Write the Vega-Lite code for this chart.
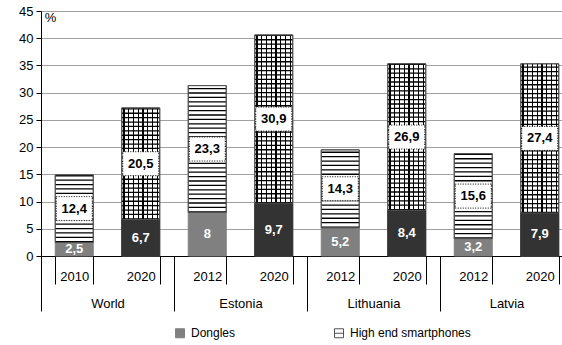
{
  "$schema": "https://vega.github.io/schema/vega-lite/v6.json",
  "autosize": {"type": "none"},
  "padding": {"left": 41, "top": 11, "right": 0, "bottom": 89},
  "width": 521,
  "height": 245,
  "config": {
    "view": {"stroke": null},
    "font": "Liberation Sans",
    "locale": {"number": {"decimal": ",", "thousands": ".", "grouping": [3], "currency": ["", "€"]}},
    "axisY": {
      "titleAngle": 0, "titleX": 9, "titleY": 6, "titleAlign": "center",
      "titleBaseline": "middle", "titleFontSize": 13, "titleFontWeight": "normal", "titleColor": "black",
      "tickCount": 9, "tickSize": 5, "tickColor": "black",
      "domainColor": "black", "labelFontSize": 13, "labelColor": "black", "labelPadding": 3,
      "grid": true, "gridColor": "#a0a0a0"
    }
  },
  "data": {
    "values": [
      {"region": "World", "year": "2010", "key": "World|2010", "series": "Dongles", "value": 2.5},
      {"region": "World", "year": "2010", "key": "World|2010", "series": "High end smartphones", "value": 12.4},
      {"region": "World", "year": "2020", "key": "World|2020", "series": "Dongles", "value": 6.7},
      {"region": "World", "year": "2020", "key": "World|2020", "series": "High end smartphones", "value": 20.5},
      {"region": "Estonia", "year": "2012", "key": "Estonia|2012", "series": "Dongles", "value": 8},
      {"region": "Estonia", "year": "2012", "key": "Estonia|2012", "series": "High end smartphones", "value": 23.3},
      {"region": "Estonia", "year": "2020", "key": "Estonia|2020", "series": "Dongles", "value": 9.7},
      {"region": "Estonia", "year": "2020", "key": "Estonia|2020", "series": "High end smartphones", "value": 30.9},
      {"region": "Lithuania", "year": "2012", "key": "Lithuania|2012", "series": "Dongles", "value": 5.2},
      {"region": "Lithuania", "year": "2012", "key": "Lithuania|2012", "series": "High end smartphones", "value": 14.3},
      {"region": "Lithuania", "year": "2020", "key": "Lithuania|2020", "series": "Dongles", "value": 8.4},
      {"region": "Lithuania", "year": "2020", "key": "Lithuania|2020", "series": "High end smartphones", "value": 26.9},
      {"region": "Latvia", "year": "2012", "key": "Latvia|2012", "series": "Dongles", "value": 3.2},
      {"region": "Latvia", "year": "2012", "key": "Latvia|2012", "series": "High end smartphones", "value": 15.6},
      {"region": "Latvia", "year": "2020", "key": "Latvia|2020", "series": "Dongles", "value": 7.9},
      {"region": "Latvia", "year": "2020", "key": "Latvia|2020", "series": "High end smartphones", "value": 27.4}
    ]
  },
  "transform": [
    {"stack": "value", "groupby": ["key"], "sort": [{"field": "series", "order": "ascending"}], "as": ["v0", "v1"]}
  ],
  "layer": [
    {
      "encoding": {
        "x": {
          "field": "key", "type": "nominal", "sort": null,
          "scale": {"range": [0, 532], "paddingInner": 0.4286, "paddingOuter": 0.2143},
          "axis": {
            "orient": "bottom", "title": null, "labelExpr": "split(datum.label, '|')[1]",
            "tickBand": "extent", "tickSize": 28, "tickColor": "black", "domainColor": "black",
            "labelPadding": -14, "labelFontSize": 13, "labelColor": "black", "labelAngle": 0, "grid": false
          }
        }
      },
      "layer": [
        {
          "mark": {"type": "bar", "strokeWidth": 1},
          "encoding": {
            "y": {
              "field": "v0", "type": "quantitative", "title": "%",
              "scale": {"domain": [0, 45], "nice": false}
            },
            "y2": {"field": "v1"},
            "fill": {
              "field": "series", "type": "nominal",
              "scale": {"domain": ["Dongles", "High end smartphones"], "range": ["#808080", "#ffffff"]},
              "legend": {
                "title": null, "orient": "none", "direction": "horizontal", "columns": 2,
                "legendX": 133, "legendY": 316, "columnPadding": 96,
                "symbolType": "M-1,-1H1V1H-1Z M-1,0H1", "symbolSize": 81, "symbolStrokeWidth": 1,
                "labelFontSize": 12, "labelColor": "black", "labelOffset": 5
              }
            },
            "stroke": {
              "field": "series", "type": "nominal",
              "scale": {"domain": ["Dongles", "High end smartphones"], "range": ["#808080", "#555555"]},
              "legend": {
                "title": null, "orient": "none", "direction": "horizontal", "columns": 2,
                "legendX": 133, "legendY": 316, "columnPadding": 96,
                "symbolType": "M-1,-1H1V1H-1Z M-1,0H1", "symbolSize": 81, "symbolStrokeWidth": 1,
                "labelFontSize": 12, "labelColor": "black", "labelOffset": 5
              }
            }
          }
        },
        {
          "transform": [{"filter": "datum.series == 'Dongles' && datum.year == '2020'"}],
          "mark": {"type": "bar", "fill": "#333333", "stroke": "#333333", "strokeWidth": 1},
          "encoding": {
            "y": {"field": "v0", "type": "quantitative", "title": "%"},
            "y2": {"field": "v1"}
          }
        },
        {
          "transform": [{"filter": "datum.series != 'Dongles'"}],
          "mark": {"type": "rule", "color": "black", "strokeWidth": 38, "strokeDash": [1.3, 3.1]},
          "encoding": {
            "y": {"field": "v0", "type": "quantitative", "title": "%"},
            "y2": {"field": "v1"}
          }
        },
        {
          "transform": [{"filter": "datum.series != 'Dongles' && datum.year == '2020'"}],
          "mark": {
            "type": "bar",
            "fill": {
              "gradient": "linear", "x1": 0, "y1": 0, "x2": 1, "y2": 0,
              "stops": [
                {"offset": 0, "color": "rgba(0,0,0,0)"},
                {"offset": 0.045, "color": "rgba(0,0,0,0)"}, {"offset": 0.045, "color": "#000000"},
                {"offset": 0.075, "color": "#000000"}, {"offset": 0.075, "color": "rgba(0,0,0,0)"},
                {"offset": 0.17, "color": "rgba(0,0,0,0)"}, {"offset": 0.17, "color": "#000000"},
                {"offset": 0.2, "color": "#000000"}, {"offset": 0.2, "color": "rgba(0,0,0,0)"},
                {"offset": 0.295, "color": "rgba(0,0,0,0)"}, {"offset": 0.295, "color": "#000000"},
                {"offset": 0.325, "color": "#000000"}, {"offset": 0.325, "color": "rgba(0,0,0,0)"},
                {"offset": 0.42, "color": "rgba(0,0,0,0)"}, {"offset": 0.42, "color": "#000000"},
                {"offset": 0.45, "color": "#000000"}, {"offset": 0.45, "color": "rgba(0,0,0,0)"},
                {"offset": 0.545, "color": "rgba(0,0,0,0)"}, {"offset": 0.545, "color": "#000000"},
                {"offset": 0.575, "color": "#000000"}, {"offset": 0.575, "color": "rgba(0,0,0,0)"},
                {"offset": 0.67, "color": "rgba(0,0,0,0)"}, {"offset": 0.67, "color": "#000000"},
                {"offset": 0.7, "color": "#000000"}, {"offset": 0.7, "color": "rgba(0,0,0,0)"},
                {"offset": 0.795, "color": "rgba(0,0,0,0)"}, {"offset": 0.795, "color": "#000000"},
                {"offset": 0.825, "color": "#000000"}, {"offset": 0.825, "color": "rgba(0,0,0,0)"},
                {"offset": 0.92, "color": "rgba(0,0,0,0)"}, {"offset": 0.92, "color": "#000000"},
                {"offset": 0.95, "color": "#000000"}, {"offset": 0.95, "color": "rgba(0,0,0,0)"},
                {"offset": 1, "color": "rgba(0,0,0,0)"}
              ]
            }
          },
          "encoding": {
            "y": {"field": "v0", "type": "quantitative", "title": "%"},
            "y2": {"field": "v1"}
          }
        },
        {
          "transform": [{"filter": "datum.series != 'Dongles'"}],
          "mark": {"type": "bar", "fillOpacity": 0, "fill": "white", "stroke": "#555555", "strokeWidth": 1},
          "encoding": {
            "y": {"field": "v0", "type": "quantitative", "title": "%"},
            "y2": {"field": "v1"}
          }
        },
        {
          "transform": [{"fold": ["v0", "v1"], "as": ["edge", "pos"]}],
          "encoding": {
            "y": {"aggregate": "mean", "field": "pos", "type": "quantitative", "title": "%"}
          },
          "layer": [
            {
              "transform": [{"filter": "datum.series != 'Dongles'"}],
              "mark": {
                "type": "point", "shape": "M-1,-0.667H1V0.667H-1Z", "size": 1296, "filled": true,
                "fill": "white", "stroke": "black", "strokeWidth": 1, "strokeDash": [1, 1.5], "opacity": 1
              },
              "encoding": {"detail": {"field": "value", "type": "quantitative"}}
            },
            {
              "transform": [{"filter": "datum.series != 'Dongles'"}],
              "mark": {"type": "text", "fontWeight": "bold", "fontSize": 13, "color": "black"},
              "encoding": {"text": {"field": "value", "type": "quantitative", "format": ".1~f"}}
            },
            {
              "transform": [{"filter": "datum.series == 'Dongles'"}],
              "mark": {"type": "text", "fontWeight": "bold", "fontSize": 13, "color": "white"},
              "encoding": {"text": {"field": "value", "type": "quantitative", "format": ".1~f"}}
            }
          ]
        }
      ]
    },
    {
      "transform": [{"filter": "datum.series == 'Dongles'"}],
      "mark": {"type": "text", "text": ""},
      "encoding": {
        "x": {
          "field": "region", "type": "nominal", "sort": null,
          "scale": {"range": [0, 532], "paddingInner": 0, "paddingOuter": 0},
          "axis": {
            "orient": "bottom", "title": null, "tickBand": "extent", "tickSize": 55, "tickColor": "black",
            "domain": false, "labelPadding": -14, "labelFontSize": 13, "labelColor": "black",
            "labelAngle": 0, "grid": false
          }
        }
      }
    }
  ],
  "resolve": {"scale": {"x": "independent"}}
}
